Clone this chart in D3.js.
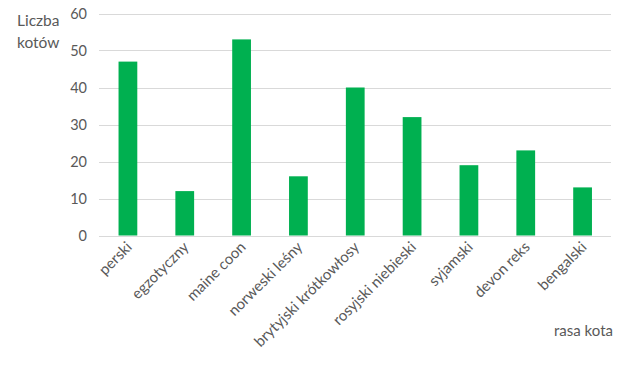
<!DOCTYPE html>
<html><head><meta charset="utf-8">
<script src="https://cdn.jsdelivr.net/npm/d3@7"></script>
<style>body{margin:0;background:#fff}svg{display:block}text{font-family:Lato,"Noto Sans",sans-serif;fill:#595959}</style>
</head><body>
<script>
const categories = ["perski","egzotyczny","maine coon","norweski leśny","brytyjski krótkowłosy","rosyjski niebieski","syjamski","devon reks","bengalski"];
const values = [47,12,53,16,40,32,19,23,13];
const yTicks = [0,10,20,30,40,50,60];

const W=620,H=366;
const svg=d3.select("body").append("svg").attr("width",W).attr("height",H);
const x=d3.scaleBand().domain(categories).range([99.5,611]).paddingInner(0.67).paddingOuter(0.335);
const y=d3.scaleLinear().domain([0,60]).range([235.5,13.5]);

const g=svg.append("g");
g.selectAll("line.grid").data(yTicks).join("line")
 .attr("x1",99).attr("x2",611).attr("y1",d=>Math.round(y(d))+0.5).attr("y2",d=>Math.round(y(d))+0.5)
 .attr("stroke","#d9d9d9").attr("stroke-width",1);

g.selectAll("rect").data(values).join("rect")
 .attr("x",(d,i)=>x(categories[i])).attr("width",x.bandwidth())
 .attr("y",d=>y(d)).attr("height",d=>y(0)-y(d)).attr("fill","#00b050");

g.selectAll("text.yt").data(yTicks).join("text")
 .attr("x",87).attr("y",d=>y(d)).attr("dy","0.35em").attr("text-anchor","end")
 .style("font-size","14.5px").text(d=>d);

g.selectAll("text.xt").data(categories).join("text")
 .attr("text-anchor","end").style("font-size","15px")
 .attr("transform",d=>`translate(${x(d)+x.bandwidth()/2+5},${248}) rotate(-45)`)
 .text(d=>d);

svg.append("text").attr("x",17).attr("y",26).style("font-size","15.5px").text("Liczba");
svg.append("text").attr("x",17).attr("y",48).style("font-size","15.5px").text("kotów");
svg.append("text").attr("x",613).attr("y",336).attr("text-anchor","end").style("font-size","15px").text("rasa kota");
</script>
</body></html>
